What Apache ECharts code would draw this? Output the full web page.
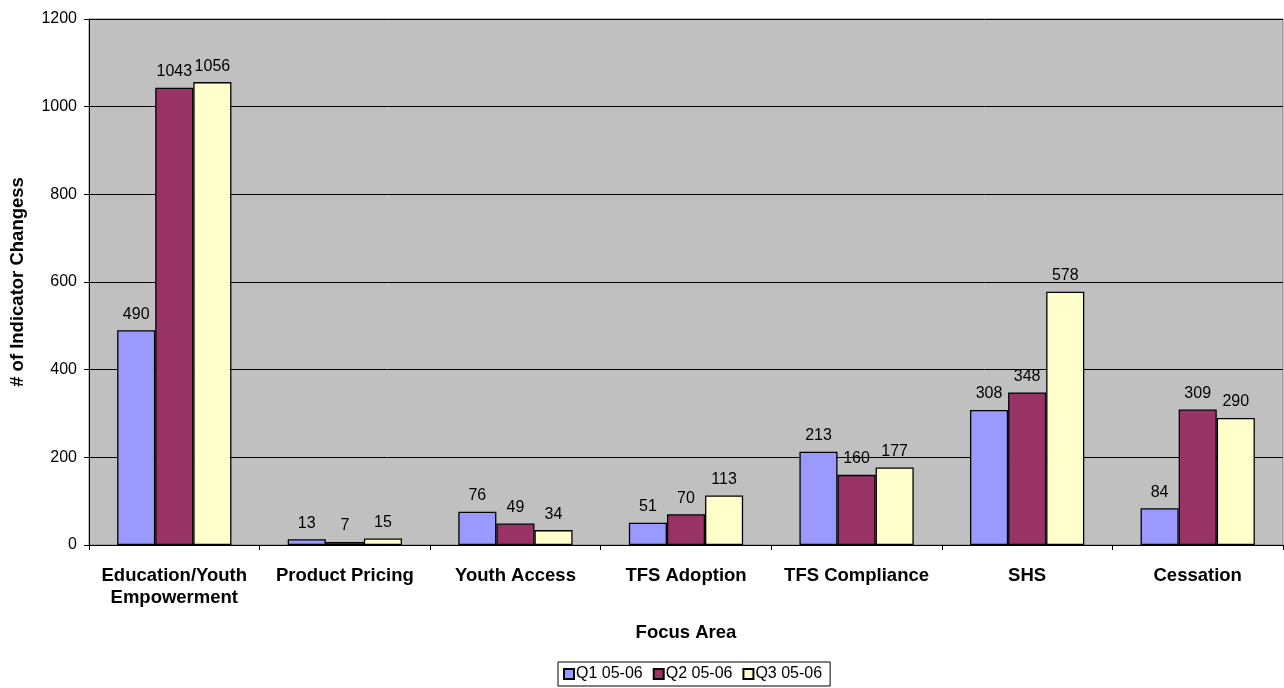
<!DOCTYPE html>
<html>
<head>
<meta charset="utf-8">
<script src="https://cdn.jsdelivr.net/npm/echarts@6/dist/echarts.min.js"></script>
<style>
  html, body { margin: 0; padding: 0; background: #ffffff; }
  #chart { width: 1284px; height: 688px; }
</style>
</head>
<body>
<div id="chart"></div>
<script>
// Focus areas along the x axis
const categories = [
  'Education/Youth\nEmpowerment',
  'Product Pricing',
  'Youth Access',
  'TFS Adoption',
  'TFS Compliance',
  'SHS',
  'Cessation'
];

// Indicator changes per quarter
const q1Values = [490, 13, 76, 51, 213, 308, 84];
const q2Values = [1043, 7, 49, 70, 160, 348, 309];
const q3Values = [1056, 15, 34, 113, 177, 578, 290];

const seriesNames = ['Q1 05-06', 'Q2 05-06', 'Q3 05-06'];
const seriesColors = ['#9999FF', '#993366', '#FFFFCC'];

const FONT = '"Liberation Sans", Arial, sans-serif';

function barSeries(name, data, color) {
  return {
    name: name,
    type: 'bar',
    data: data,
    barGap: '0%',
    barCategoryGap: '33%',
    itemStyle: { color: color, borderColor: '#000000', borderWidth: 1.3 },
    label: {
      show: true,
      position: 'top',
      distance: 8,
      color: '#000000',
      fontFamily: FONT,
      fontSize: 16
    }
  };
}

const chart = echarts.init(document.getElementById('chart'), null, { renderer: 'canvas' });
chart.setOption({
  animation: false,
  backgroundColor: '#ffffff',
  grid: {
    left: 89, right: 1, top: 19, bottom: 143,
    outerBoundsMode: 'none',
    containLabel: false,
    show: true,
    backgroundColor: '#C0C0C0',
    borderColor: '#808080',
    borderWidth: 1
  },
  legend: {
    data: seriesNames,
    top: 662,
    left: 558,
    itemWidth: 10,
    itemHeight: 10,
    itemGap: 10,
    padding: [4, 8, 4, 5],
    borderColor: '#000000',
    borderWidth: 1,
    textStyle: { fontFamily: FONT, fontSize: 16, color: '#000000', padding: [0, 0, 0, -3] },
    icon: 'rect'
  },
  xAxis: {
    type: 'category',
    data: categories,
    name: 'Focus Area',
    nameLocation: 'middle',
    nameGap: 78,
    nameTextStyle: { fontFamily: FONT, fontSize: 18.5, fontWeight: 'bold', color: '#000000' },
    axisLine: { show: true, lineStyle: { color: '#000000', width: 1 } },
    axisTick: { show: true, length: 5, lineStyle: { color: '#000000' } },
    axisLabel: {
      interval: 0,
      margin: 20,
      fontFamily: FONT,
      fontSize: 18.5,
      fontWeight: 'bold',
      color: '#000000',
      lineHeight: 22
    }
  },
  yAxis: {
    type: 'value',
    min: 0,
    max: 1200,
    interval: 200,
    name: '# of Indicator Changess',
    nameLocation: 'middle',
    nameGap: 62,
    nameTextStyle: { fontFamily: FONT, fontSize: 18.5, fontWeight: 'bold', color: '#000000' },
    axisLine: { show: true, lineStyle: { color: '#000000', width: 1 } },
    axisTick: { show: true, length: 5, lineStyle: { color: '#000000' } },
    axisLabel: {
      margin: 12,
      fontFamily: FONT,
      fontSize: 16,
      color: '#000000',
      formatter: function (v) { return String(v); }
    },
    splitLine: { show: true, lineStyle: { color: '#000000', width: 1 } }
  },
  series: [
    barSeries(seriesNames[0], q1Values, seriesColors[0]),
    barSeries(seriesNames[1], q2Values, seriesColors[1]),
    barSeries(seriesNames[2], q3Values, seriesColors[2])
  ]
});
</script>
</body>
</html>
